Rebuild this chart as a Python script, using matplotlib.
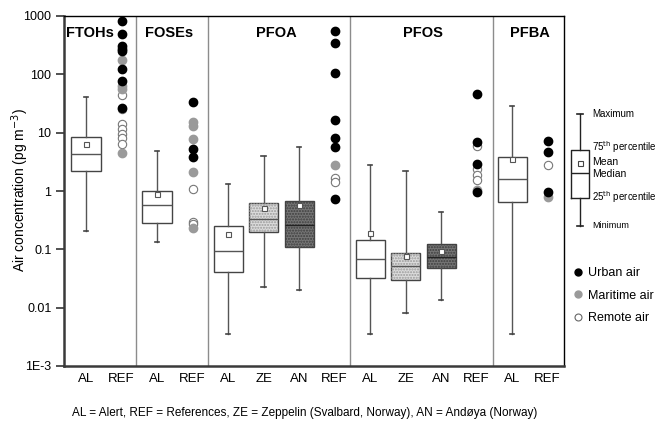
import matplotlib
matplotlib.use('Agg')
import matplotlib.pyplot as plt
from matplotlib.lines import Line2D
from matplotlib.patches import Rectangle

plt.rcParams['font.family'] = ['Liberation Sans', 'DejaVu Sans']

# box statistics for measured sites (pg m-3)
box_labels = ['AL', 'AL', 'AL', 'ZE', 'AN', 'AL', 'ZE', 'AN', 'AL']
box_pos = [1, 3, 5, 6, 7, 9, 10, 11, 13]
whislo = [0.206, 0.134, 0.0035, 0.0226, 0.0198, 0.0035, 0.0082, 0.0135, 0.0035]
q1 = [2.2, 0.28, 0.041, 0.198, 0.111, 0.032, 0.0298, 0.048, 0.66]
med = [4.3, 0.57, 0.094, 0.33, 0.26, 0.068, 0.051, 0.073, 1.6]
q3 = [8.3, 1.0, 0.25, 0.62, 0.67, 0.147, 0.0865, 0.122, 3.8]
whishi = [41, 4.85, 1.32, 4.0, 5.6, 2.8, 2.2, 0.43, 29]
means = [6.4, 0.88, 0.185, 0.51, 0.57, 0.193, 0.078, 0.092, 3.5]

# literature values (REF columns)
ref_pos = [2, 4, 8, 12, 14]
ref_urban = [
    [830, 490, 305, 272, 251, 125, 77, 27],
    [33, 5.2, 3.8],
    [553, 340, 104, 16.5, 8.0, 5.6, 0.72],
    [46, 7.0, 2.9, 0.95],
    [7.2, 4.7, 0.95],
]
ref_maritime = [
    [174, 63, 57, 4.5],
    [15, 13, 7.7, 2.1, 0.23],
    [2.8],
    [1.05],
    [0.8],
]
ref_remote = [
    [44, 25, 14, 11.5, 9.6, 8.0, 6.4],
    [1.1, 0.30, 0.27],
    [1.7, 1.4],
    [5.9, 2.4, 1.9, 1.55],
    [2.8],
]

groups = ['FTOHs', 'FOSEs', 'PFOA', 'PFOS', 'PFBA']
group_x = [0.44, 3.35, 6.35, 10.5, 13.5]
group_ha = ['left', 'center', 'center', 'center', 'center']
separators = [2.42, 4.43, 8.42, 12.47]
xlabels = ['AL', 'REF', 'AL', 'REF', 'AL', 'ZE', 'AN', 'REF',
           'AL', 'ZE', 'AN', 'REF', 'AL', 'REF']
yticks = [1e-3, 1e-2, 1e-1, 1, 10, 100, 1000]
yticklabels = ['1E-3', '0.01', '0.1', '1', '10', '100', '1000']

fill = {'AL': 'white', 'ZE': '#dcdcdc', 'AN': '#767676'}
hatchc = {'ZE': '#9a9a9a', 'AN': '#3e3e3e'}

fig = plt.figure(figsize=(6.59, 4.25), dpi=100)
ax = fig.add_axes([64 / 659, 59 / 425, 500 / 659, 350 / 425])
ax.set_yscale('log')

stats = []
for i in range(len(box_pos)):
    stats.append(dict(whislo=whislo[i], q1=q1[i], med=med[i], q3=q3[i],
                      whishi=whishi[i], mean=means[i], fliers=[]))

w = 0.82
bp = ax.bxp(stats, positions=box_pos, widths=w, patch_artist=True,
            showmeans=True,
            boxprops=dict(edgecolor='#444444', lw=1.0),
            whiskerprops=dict(color='#555555', lw=1.0),
            capprops=dict(color='#444444', lw=1.2),
            medianprops=dict(color='#555555', lw=1.0),
            capwidths=0.12,
            meanprops=dict(marker='s', mfc='white', mec='#555555',
                           ms=3.6, mew=0.8))
for i, b in enumerate(bp['boxes']):
    lab = box_labels[i]
    b.set_facecolor(fill[lab])
    if lab in hatchc:
        ax.add_patch(Rectangle((box_pos[i] - w / 2, q1[i]), w, q3[i] - q1[i],
                               fill=False, hatch='......', lw=0,
                               edgecolor=hatchc[lab], zorder=2.05))
        if lab == 'AN':
            bp['medians'][i].set_color('#222222')

for i, x in enumerate(ref_pos):
    ax.plot([x] * len(ref_remote[i]), ref_remote[i], 'o', ms=6,
            mfc='white', mec='#777777', mew=0.8, zorder=3)
    ax.plot([x] * len(ref_maritime[i]), ref_maritime[i], 'o', ms=6,
            mfc='#9a9a9a', mec='#9a9a9a', zorder=3)
    ax.plot([x] * len(ref_urban[i]), ref_urban[i], 'o', ms=6,
            mfc='black', mec='black', zorder=4)

for s in separators:
    ax.axvline(s, color='#8c8c8c', lw=1.0)
for g, gx, ha in zip(groups, group_x, group_ha):
    ax.text(gx, 515, g, ha=ha, va='center', fontsize=10.5,
            fontweight='bold')

ax.set_xlim(0.38, 14.46)
ax.set_ylim(1e-3, 1000)
ax.set_xticks(range(1, 15))
ax.set_xticklabels(xlabels, fontsize=9.5)
ax.tick_params(axis='x', length=0, pad=5)
ax.set_yticks(yticks)
ax.set_yticklabels(yticklabels, fontsize=9)
ax.yaxis.set_minor_locator(matplotlib.ticker.NullLocator())
ax.tick_params(axis='y', length=6, width=1.2, color='#333333', pad=3)
for side in ['left', 'bottom']:
    ax.spines[side].set_linewidth(1.8)
    ax.spines[side].set_color('#3a3a3a')
for side in ['top', 'right']:
    ax.spines[side].set_linewidth(1.0)
fig.text(20 / 659, 1 - 190 / 425, 'Air concentration (pg m$^{-3}$)',
         rotation=90, ha='center', va='center', fontsize=10)

# schematic legend box
lax = fig.add_axes([565 / 659, 59 / 425, 94 / 659, 350 / 425])
lax.set_yscale('log')
lax.set_xlim(0, 1)
lax.set_ylim(1e-3, 1000)
lax.axis('off')
key = dict(whislo=0.254, q1=0.77, med=2.0, q3=5.05, whishi=21, mean=3.0,
           fliers=[])
lax.bxp([key], positions=[0.16], widths=0.19, showmeans=True,
        boxprops=dict(color='#222222', lw=1.0),
        whiskerprops=dict(color='#222222', lw=1.0),
        capprops=dict(color='#222222', lw=1.2),
        medianprops=dict(color='#222222', lw=1.0),
        capwidths=0.07,
        meanprops=dict(marker='s', mfc='white', mec='#444444', ms=3.6,
                       mew=0.8))
key_text = [('Maximum', 21, 7), ('75$^{\\rm th}$ percentile', 5.6, 7),
            ('Mean', 3.1, 7.5), ('Median', 1.95, 7.5),
            ('25$^{\\rm th}$ percentile', 0.78, 7), ('Minimum', 0.26, 6.5)]
for t, yv, fs in key_text:
    lax.text(0.29, yv, t, fontsize=fs, va='center', ha='left')

handles = [
    Line2D([], [], ls='', marker='o', ms=5, mfc='black', mec='black'),
    Line2D([], [], ls='', marker='o', ms=5, mfc='#9a9a9a', mec='#9a9a9a'),
    Line2D([], [], ls='', marker='o', ms=5, mfc='white', mec='#666666',
           mew=0.8),
]
fig.legend(handles, ['Urban air', 'Maritime air', 'Remote air'],
           loc='upper left', bbox_to_anchor=(568 / 659, 1 - 262 / 425),
           frameon=False, fontsize=9, handlelength=0.8,
           handletextpad=0.4, labelspacing=0.85, borderaxespad=0)

fig.text(305 / 659, 1 - 413 / 425,
         'AL = Alert, REF = References, ZE = Zeppelin (Svalbard, Norway), '
         'AN = Andøya (Norway)', ha='center', va='center', fontsize=8.5)

fig.savefig('out.png', dpi=100)
